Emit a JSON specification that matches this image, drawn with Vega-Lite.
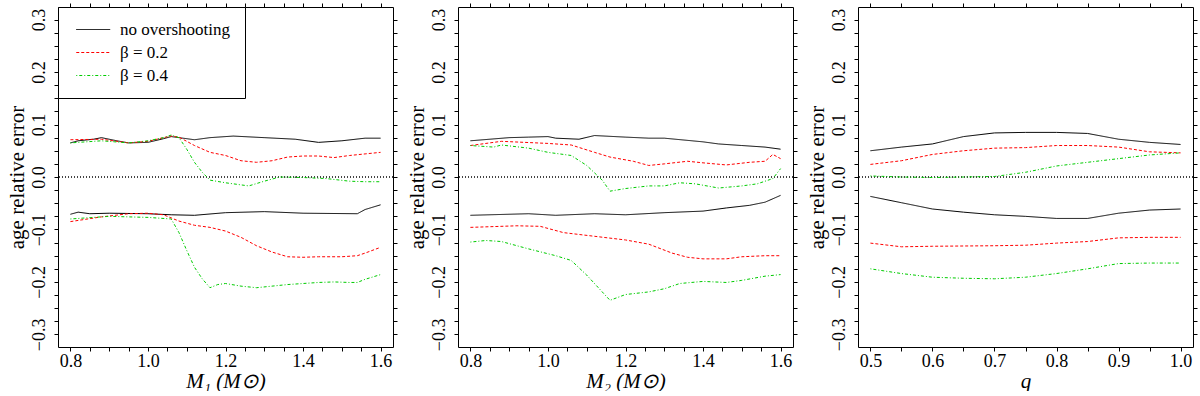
{
  "$schema": "https://vega.github.io/schema/vega-lite/v6.json",
  "padding": {"left": 5, "top": 2, "right": 0, "bottom": 0},
  "background": "white",
  "datasets": {
    "p1": [
      {"x":0.8,"y":0.065,"s":"no overshooting","b":"u"},{"x":0.82,"y":0.069,"s":"no overshooting","b":"u"},{"x":0.86,"y":0.072,"s":"no overshooting","b":"u"},{"x":0.88,"y":0.075,"s":"no overshooting","b":"u"},{"x":0.92,"y":0.069,"s":"no overshooting","b":"u"},{"x":0.95,"y":0.065,"s":"no overshooting","b":"u"},{"x":1.0,"y":0.066,"s":"no overshooting","b":"u"},{"x":1.04,"y":0.073,"s":"no overshooting","b":"u"},{"x":1.06,"y":0.077,"s":"no overshooting","b":"u"},{"x":1.08,"y":0.075,"s":"no overshooting","b":"u"},{"x":1.12,"y":0.071,"s":"no overshooting","b":"u"},{"x":1.16,"y":0.075,"s":"no overshooting","b":"u"},{"x":1.22,"y":0.078,"s":"no overshooting","b":"u"},{"x":1.3,"y":0.075,"s":"no overshooting","b":"u"},{"x":1.38,"y":0.072,"s":"no overshooting","b":"u"},{"x":1.44,"y":0.066,"s":"no overshooting","b":"u"},{"x":1.5,"y":0.069,"s":"no overshooting","b":"u"},{"x":1.56,"y":0.074,"s":"no overshooting","b":"u"},{"x":1.6,"y":0.074,"s":"no overshooting","b":"u"},
      {"x":0.8,"y":0.071,"s":"β = 0.2","b":"u"},{"x":0.88,"y":0.072,"s":"β = 0.2","b":"u"},{"x":0.95,"y":0.065,"s":"β = 0.2","b":"u"},{"x":1.0,"y":0.068,"s":"β = 0.2","b":"u"},{"x":1.04,"y":0.075,"s":"β = 0.2","b":"u"},{"x":1.06,"y":0.078,"s":"β = 0.2","b":"u"},{"x":1.08,"y":0.076,"s":"β = 0.2","b":"u"},{"x":1.12,"y":0.06,"s":"β = 0.2","b":"u"},{"x":1.16,"y":0.047,"s":"β = 0.2","b":"u"},{"x":1.2,"y":0.041,"s":"β = 0.2","b":"u"},{"x":1.24,"y":0.031,"s":"β = 0.2","b":"u"},{"x":1.28,"y":0.028,"s":"β = 0.2","b":"u"},{"x":1.32,"y":0.031,"s":"β = 0.2","b":"u"},{"x":1.36,"y":0.038,"s":"β = 0.2","b":"u"},{"x":1.4,"y":0.04,"s":"β = 0.2","b":"u"},{"x":1.44,"y":0.04,"s":"β = 0.2","b":"u"},{"x":1.48,"y":0.037,"s":"β = 0.2","b":"u"},{"x":1.52,"y":0.041,"s":"β = 0.2","b":"u"},{"x":1.56,"y":0.044,"s":"β = 0.2","b":"u"},{"x":1.6,"y":0.047,"s":"β = 0.2","b":"u"},
      {"x":0.8,"y":0.065,"s":"β = 0.4","b":"u"},{"x":0.88,"y":0.069,"s":"β = 0.4","b":"u"},{"x":0.95,"y":0.065,"s":"β = 0.4","b":"u"},{"x":1.0,"y":0.069,"s":"β = 0.4","b":"u"},{"x":1.04,"y":0.075,"s":"β = 0.4","b":"u"},{"x":1.06,"y":0.08,"s":"β = 0.4","b":"u"},{"x":1.08,"y":0.075,"s":"β = 0.4","b":"u"},{"x":1.1,"y":0.053,"s":"β = 0.4","b":"u"},{"x":1.12,"y":0.028,"s":"β = 0.4","b":"u"},{"x":1.14,"y":0.009,"s":"β = 0.4","b":"u"},{"x":1.16,"y":-0.006,"s":"β = 0.4","b":"u"},{"x":1.2,"y":-0.011,"s":"β = 0.4","b":"u"},{"x":1.26,"y":-0.017,"s":"β = 0.4","b":"u"},{"x":1.3,"y":-0.008,"s":"β = 0.4","b":"u"},{"x":1.34,"y":0.0,"s":"β = 0.4","b":"u"},{"x":1.4,"y":-0.001,"s":"β = 0.4","b":"u"},{"x":1.46,"y":-0.003,"s":"β = 0.4","b":"u"},{"x":1.52,"y":-0.008,"s":"β = 0.4","b":"u"},{"x":1.56,"y":-0.009,"s":"β = 0.4","b":"u"},{"x":1.6,"y":-0.009,"s":"β = 0.4","b":"u"},
      {"x":0.8,"y":-0.071,"s":"no overshooting","b":"l"},{"x":0.82,"y":-0.067,"s":"no overshooting","b":"l"},{"x":0.85,"y":-0.07,"s":"no overshooting","b":"l"},{"x":0.9,"y":-0.069,"s":"no overshooting","b":"l"},{"x":1.0,"y":-0.07,"s":"no overshooting","b":"l"},{"x":1.06,"y":-0.072,"s":"no overshooting","b":"l"},{"x":1.12,"y":-0.073,"s":"no overshooting","b":"l"},{"x":1.2,"y":-0.068,"s":"no overshooting","b":"l"},{"x":1.3,"y":-0.066,"s":"no overshooting","b":"l"},{"x":1.4,"y":-0.069,"s":"no overshooting","b":"l"},{"x":1.54,"y":-0.07,"s":"no overshooting","b":"l"},{"x":1.56,"y":-0.062,"s":"no overshooting","b":"l"},{"x":1.6,"y":-0.053,"s":"no overshooting","b":"l"},
      {"x":0.8,"y":-0.085,"s":"β = 0.2","b":"l"},{"x":0.88,"y":-0.076,"s":"β = 0.2","b":"l"},{"x":0.95,"y":-0.07,"s":"β = 0.2","b":"l"},{"x":1.0,"y":-0.069,"s":"β = 0.2","b":"l"},{"x":1.04,"y":-0.072,"s":"β = 0.2","b":"l"},{"x":1.08,"y":-0.084,"s":"β = 0.2","b":"l"},{"x":1.12,"y":-0.092,"s":"β = 0.2","b":"l"},{"x":1.16,"y":-0.096,"s":"β = 0.2","b":"l"},{"x":1.2,"y":-0.103,"s":"β = 0.2","b":"l"},{"x":1.24,"y":-0.115,"s":"β = 0.2","b":"l"},{"x":1.28,"y":-0.131,"s":"β = 0.2","b":"l"},{"x":1.32,"y":-0.143,"s":"β = 0.2","b":"l"},{"x":1.36,"y":-0.152,"s":"β = 0.2","b":"l"},{"x":1.4,"y":-0.153,"s":"β = 0.2","b":"l"},{"x":1.44,"y":-0.152,"s":"β = 0.2","b":"l"},{"x":1.5,"y":-0.152,"s":"β = 0.2","b":"l"},{"x":1.54,"y":-0.15,"s":"β = 0.2","b":"l"},{"x":1.56,"y":-0.145,"s":"β = 0.2","b":"l"},{"x":1.6,"y":-0.134,"s":"β = 0.2","b":"l"},
      {"x":0.8,"y":-0.08,"s":"β = 0.4","b":"l"},{"x":0.9,"y":-0.075,"s":"β = 0.4","b":"l"},{"x":1.0,"y":-0.077,"s":"β = 0.4","b":"l"},{"x":1.06,"y":-0.08,"s":"β = 0.4","b":"l"},{"x":1.08,"y":-0.106,"s":"β = 0.4","b":"l"},{"x":1.1,"y":-0.14,"s":"β = 0.4","b":"l"},{"x":1.12,"y":-0.172,"s":"β = 0.4","b":"l"},{"x":1.14,"y":-0.194,"s":"β = 0.4","b":"l"},{"x":1.16,"y":-0.211,"s":"β = 0.4","b":"l"},{"x":1.18,"y":-0.205,"s":"β = 0.4","b":"l"},{"x":1.2,"y":-0.203,"s":"β = 0.4","b":"l"},{"x":1.24,"y":-0.208,"s":"β = 0.4","b":"l"},{"x":1.28,"y":-0.211,"s":"β = 0.4","b":"l"},{"x":1.32,"y":-0.208,"s":"β = 0.4","b":"l"},{"x":1.36,"y":-0.205,"s":"β = 0.4","b":"l"},{"x":1.4,"y":-0.203,"s":"β = 0.4","b":"l"},{"x":1.44,"y":-0.201,"s":"β = 0.4","b":"l"},{"x":1.48,"y":-0.2,"s":"β = 0.4","b":"l"},{"x":1.52,"y":-0.201,"s":"β = 0.4","b":"l"},{"x":1.54,"y":-0.201,"s":"β = 0.4","b":"l"},{"x":1.56,"y":-0.195,"s":"β = 0.4","b":"l"},{"x":1.6,"y":-0.186,"s":"β = 0.4","b":"l"}
    ],
    "p2": [
      {"x":0.8,"y":0.069,"s":"no overshooting","b":"u"},{"x":0.9,"y":0.075,"s":"no overshooting","b":"u"},{"x":0.95,"y":0.076,"s":"no overshooting","b":"u"},{"x":1.0,"y":0.077,"s":"no overshooting","b":"u"},{"x":1.02,"y":0.074,"s":"no overshooting","b":"u"},{"x":1.08,"y":0.072,"s":"no overshooting","b":"u"},{"x":1.12,"y":0.079,"s":"no overshooting","b":"u"},{"x":1.2,"y":0.076,"s":"no overshooting","b":"u"},{"x":1.26,"y":0.074,"s":"no overshooting","b":"u"},{"x":1.3,"y":0.074,"s":"no overshooting","b":"u"},{"x":1.4,"y":0.067,"s":"no overshooting","b":"u"},{"x":1.44,"y":0.063,"s":"no overshooting","b":"u"},{"x":1.5,"y":0.06,"s":"no overshooting","b":"u"},{"x":1.56,"y":0.057,"s":"no overshooting","b":"u"},{"x":1.6,"y":0.053,"s":"no overshooting","b":"u"},
      {"x":0.8,"y":0.06,"s":"β = 0.2","b":"u"},{"x":0.88,"y":0.068,"s":"β = 0.2","b":"u"},{"x":1.0,"y":0.064,"s":"β = 0.2","b":"u"},{"x":1.06,"y":0.061,"s":"β = 0.2","b":"u"},{"x":1.12,"y":0.047,"s":"β = 0.2","b":"u"},{"x":1.16,"y":0.038,"s":"β = 0.2","b":"u"},{"x":1.22,"y":0.03,"s":"β = 0.2","b":"u"},{"x":1.26,"y":0.022,"s":"β = 0.2","b":"u"},{"x":1.3,"y":0.025,"s":"β = 0.2","b":"u"},{"x":1.36,"y":0.03,"s":"β = 0.2","b":"u"},{"x":1.4,"y":0.027,"s":"β = 0.2","b":"u"},{"x":1.46,"y":0.023,"s":"β = 0.2","b":"u"},{"x":1.52,"y":0.028,"s":"β = 0.2","b":"u"},{"x":1.56,"y":0.03,"s":"β = 0.2","b":"u"},{"x":1.58,"y":0.043,"s":"β = 0.2","b":"u"},{"x":1.6,"y":0.035,"s":"β = 0.2","b":"u"},
      {"x":0.8,"y":0.06,"s":"β = 0.4","b":"u"},{"x":0.86,"y":0.057,"s":"β = 0.4","b":"u"},{"x":0.88,"y":0.061,"s":"β = 0.4","b":"u"},{"x":0.95,"y":0.055,"s":"β = 0.4","b":"u"},{"x":1.0,"y":0.047,"s":"β = 0.4","b":"u"},{"x":1.06,"y":0.041,"s":"β = 0.4","b":"u"},{"x":1.1,"y":0.022,"s":"β = 0.4","b":"u"},{"x":1.14,"y":-0.006,"s":"β = 0.4","b":"u"},{"x":1.16,"y":-0.027,"s":"β = 0.4","b":"u"},{"x":1.2,"y":-0.022,"s":"β = 0.4","b":"u"},{"x":1.26,"y":-0.017,"s":"β = 0.4","b":"u"},{"x":1.3,"y":-0.017,"s":"β = 0.4","b":"u"},{"x":1.34,"y":-0.011,"s":"β = 0.4","b":"u"},{"x":1.38,"y":-0.013,"s":"β = 0.4","b":"u"},{"x":1.44,"y":-0.021,"s":"β = 0.4","b":"u"},{"x":1.5,"y":-0.017,"s":"β = 0.4","b":"u"},{"x":1.54,"y":-0.013,"s":"β = 0.4","b":"u"},{"x":1.58,"y":-0.003,"s":"β = 0.4","b":"u"},{"x":1.6,"y":0.016,"s":"β = 0.4","b":"u"},
      {"x":0.8,"y":-0.073,"s":"no overshooting","b":"l"},{"x":0.95,"y":-0.07,"s":"no overshooting","b":"l"},{"x":1.02,"y":-0.073,"s":"no overshooting","b":"l"},{"x":1.12,"y":-0.07,"s":"no overshooting","b":"l"},{"x":1.2,"y":-0.072,"s":"no overshooting","b":"l"},{"x":1.3,"y":-0.068,"s":"no overshooting","b":"l"},{"x":1.4,"y":-0.065,"s":"no overshooting","b":"l"},{"x":1.46,"y":-0.059,"s":"no overshooting","b":"l"},{"x":1.52,"y":-0.054,"s":"no overshooting","b":"l"},{"x":1.56,"y":-0.048,"s":"no overshooting","b":"l"},{"x":1.6,"y":-0.035,"s":"no overshooting","b":"l"},
      {"x":0.8,"y":-0.096,"s":"β = 0.2","b":"l"},{"x":0.92,"y":-0.093,"s":"β = 0.2","b":"l"},{"x":0.98,"y":-0.094,"s":"β = 0.2","b":"l"},{"x":1.04,"y":-0.106,"s":"β = 0.2","b":"l"},{"x":1.12,"y":-0.113,"s":"β = 0.2","b":"l"},{"x":1.2,"y":-0.12,"s":"β = 0.2","b":"l"},{"x":1.26,"y":-0.128,"s":"β = 0.2","b":"l"},{"x":1.32,"y":-0.145,"s":"β = 0.2","b":"l"},{"x":1.36,"y":-0.153,"s":"β = 0.2","b":"l"},{"x":1.4,"y":-0.156,"s":"β = 0.2","b":"l"},{"x":1.46,"y":-0.156,"s":"β = 0.2","b":"l"},{"x":1.5,"y":-0.152,"s":"β = 0.2","b":"l"},{"x":1.56,"y":-0.15,"s":"β = 0.2","b":"l"},{"x":1.6,"y":-0.15,"s":"β = 0.2","b":"l"},
      {"x":0.8,"y":-0.124,"s":"β = 0.4","b":"l"},{"x":0.84,"y":-0.121,"s":"β = 0.4","b":"l"},{"x":0.88,"y":-0.123,"s":"β = 0.4","b":"l"},{"x":0.95,"y":-0.137,"s":"β = 0.4","b":"l"},{"x":1.02,"y":-0.15,"s":"β = 0.4","b":"l"},{"x":1.06,"y":-0.159,"s":"β = 0.4","b":"l"},{"x":1.1,"y":-0.187,"s":"β = 0.4","b":"l"},{"x":1.14,"y":-0.219,"s":"β = 0.4","b":"l"},{"x":1.16,"y":-0.235,"s":"β = 0.4","b":"l"},{"x":1.2,"y":-0.224,"s":"β = 0.4","b":"l"},{"x":1.26,"y":-0.219,"s":"β = 0.4","b":"l"},{"x":1.3,"y":-0.213,"s":"β = 0.4","b":"l"},{"x":1.34,"y":-0.203,"s":"β = 0.4","b":"l"},{"x":1.4,"y":-0.199,"s":"β = 0.4","b":"l"},{"x":1.46,"y":-0.201,"s":"β = 0.4","b":"l"},{"x":1.5,"y":-0.197,"s":"β = 0.4","b":"l"},{"x":1.56,"y":-0.189,"s":"β = 0.4","b":"l"},{"x":1.6,"y":-0.186,"s":"β = 0.4","b":"l"}
    ],
    "p3": [
      {"x":0.5,"y":0.05,"s":"no overshooting","b":"u"},{"x":0.55,"y":0.057,"s":"no overshooting","b":"u"},{"x":0.6,"y":0.063,"s":"no overshooting","b":"u"},{"x":0.65,"y":0.077,"s":"no overshooting","b":"u"},{"x":0.7,"y":0.084,"s":"no overshooting","b":"u"},{"x":0.75,"y":0.085,"s":"no overshooting","b":"u"},{"x":0.8,"y":0.085,"s":"no overshooting","b":"u"},{"x":0.85,"y":0.083,"s":"no overshooting","b":"u"},{"x":0.9,"y":0.072,"s":"no overshooting","b":"u"},{"x":0.95,"y":0.066,"s":"no overshooting","b":"u"},{"x":1.0,"y":0.062,"s":"no overshooting","b":"u"},
      {"x":0.5,"y":0.024,"s":"β = 0.2","b":"u"},{"x":0.55,"y":0.031,"s":"β = 0.2","b":"u"},{"x":0.6,"y":0.043,"s":"β = 0.2","b":"u"},{"x":0.65,"y":0.05,"s":"β = 0.2","b":"u"},{"x":0.7,"y":0.055,"s":"β = 0.2","b":"u"},{"x":0.75,"y":0.056,"s":"β = 0.2","b":"u"},{"x":0.8,"y":0.06,"s":"β = 0.2","b":"u"},{"x":0.85,"y":0.06,"s":"β = 0.2","b":"u"},{"x":0.9,"y":0.057,"s":"β = 0.2","b":"u"},{"x":0.95,"y":0.048,"s":"β = 0.2","b":"u"},{"x":1.0,"y":0.046,"s":"β = 0.2","b":"u"},
      {"x":0.5,"y":0.002,"s":"β = 0.4","b":"u"},{"x":0.55,"y":0.0,"s":"β = 0.4","b":"u"},{"x":0.6,"y":-0.001,"s":"β = 0.4","b":"u"},{"x":0.65,"y":0.0,"s":"β = 0.4","b":"u"},{"x":0.7,"y":0.001,"s":"β = 0.4","b":"u"},{"x":0.75,"y":0.009,"s":"β = 0.4","b":"u"},{"x":0.8,"y":0.021,"s":"β = 0.4","b":"u"},{"x":0.85,"y":0.028,"s":"β = 0.4","b":"u"},{"x":0.9,"y":0.035,"s":"β = 0.4","b":"u"},{"x":0.95,"y":0.042,"s":"β = 0.4","b":"u"},{"x":1.0,"y":0.046,"s":"β = 0.4","b":"u"},
      {"x":0.5,"y":-0.037,"s":"no overshooting","b":"l"},{"x":0.55,"y":-0.049,"s":"no overshooting","b":"l"},{"x":0.6,"y":-0.061,"s":"no overshooting","b":"l"},{"x":0.65,"y":-0.067,"s":"no overshooting","b":"l"},{"x":0.7,"y":-0.072,"s":"no overshooting","b":"l"},{"x":0.75,"y":-0.075,"s":"no overshooting","b":"l"},{"x":0.8,"y":-0.079,"s":"no overshooting","b":"l"},{"x":0.85,"y":-0.079,"s":"no overshooting","b":"l"},{"x":0.9,"y":-0.069,"s":"no overshooting","b":"l"},{"x":0.95,"y":-0.063,"s":"no overshooting","b":"l"},{"x":1.0,"y":-0.061,"s":"no overshooting","b":"l"},
      {"x":0.5,"y":-0.126,"s":"β = 0.2","b":"l"},{"x":0.55,"y":-0.133,"s":"β = 0.2","b":"l"},{"x":0.6,"y":-0.132,"s":"β = 0.2","b":"l"},{"x":0.7,"y":-0.131,"s":"β = 0.2","b":"l"},{"x":0.75,"y":-0.13,"s":"β = 0.2","b":"l"},{"x":0.8,"y":-0.126,"s":"β = 0.2","b":"l"},{"x":0.85,"y":-0.123,"s":"β = 0.2","b":"l"},{"x":0.9,"y":-0.116,"s":"β = 0.2","b":"l"},{"x":0.95,"y":-0.115,"s":"β = 0.2","b":"l"},{"x":1.0,"y":-0.115,"s":"β = 0.2","b":"l"},
      {"x":0.5,"y":-0.175,"s":"β = 0.4","b":"l"},{"x":0.55,"y":-0.184,"s":"β = 0.4","b":"l"},{"x":0.6,"y":-0.191,"s":"β = 0.4","b":"l"},{"x":0.65,"y":-0.193,"s":"β = 0.4","b":"l"},{"x":0.7,"y":-0.194,"s":"β = 0.4","b":"l"},{"x":0.75,"y":-0.191,"s":"β = 0.4","b":"l"},{"x":0.8,"y":-0.184,"s":"β = 0.4","b":"l"},{"x":0.85,"y":-0.175,"s":"β = 0.4","b":"l"},{"x":0.9,"y":-0.165,"s":"β = 0.4","b":"l"},{"x":0.95,"y":-0.164,"s":"β = 0.4","b":"l"},{"x":1.0,"y":-0.164,"s":"β = 0.4","b":"l"}
    ]
  },
  "bounds": "flush",
  "spacing": 65,
  "resolve": {"scale": {"color": "independent", "strokeDash": "independent"}, "legend": {"color": "independent", "strokeDash": "independent"}},
  "hconcat": [
    {
      "width": 335, "height": 340,
      "data": {"name": "p1"},
      "resolve": {"axis": {"x": "independent", "y": "independent"}},
      "layer": [
        {
          "mark": {"type": "rule", "strokeDash": [1, 2], "color": "#444", "strokeWidth": 1},
          "encoding": {"y": {"datum": 0, "type": "quantitative", "axis": null}}
        },
        {
          "mark": {"type": "line", "strokeWidth": 1},
          "encoding": {
            "x": {"field": "x", "type": "quantitative", "scale": {"domain": [0.768, 1.632], "nice": false, "zero": false},
              "axis": {"orient": "bottom", "title": "M₁ (M⊙)", "titleFontStyle": "italic", "labelFont": "Liberation Serif", "titleFont": "Liberation Serif", "labelPadding": 1, "titlePadding": 0, "values": [0.8,0.85,0.9,0.95,1.0,1.05,1.1,1.15,1.2,1.25,1.3,1.35,1.4,1.45,1.5,1.55,1.6], "labelExpr": "round(datum.value*20) % 4 == 0 ? format(datum.value, '.1f') : ''"}},
            "y": {"field": "y", "type": "quantitative", "scale": {"domain": [-0.324, 0.324], "nice": false, "zero": false},
              "axis": {"orient": "left", "title": "age relative error", "labelFont": "Liberation Serif", "titleFont": "Liberation Serif", "labelPadding": 6, "titlePadding": 3, "values": [-0.3,-0.275,-0.25,-0.225,-0.2,-0.175,-0.15,-0.125,-0.1,-0.075,-0.05,-0.025,0,0.025,0.05,0.075,0.1,0.125,0.15,0.175,0.2,0.225,0.25,0.275,0.3], "labelExpr": "abs(round(datum.value*40)) % 4 == 0 ? format(datum.value, '.1f') : ''", "labelAngle": 270, "labelAlign": "center", "labelBaseline": "bottom"}},
            "color": {"field": "s", "type": "nominal", "scale": {"domain": ["no overshooting", "β = 0.2", "β = 0.4"], "range": ["#000000", "#ff0000", "#00cc00"]},
              "legend": {"title": null, "orient": "top-left", "offset": 0, "fillColor": "white", "strokeColor": "black", "padding": 14, "symbolType": "M-1,0H7", "symbolSize": 72, "symbolStrokeWidth": 1, "rowPadding": 5, "labelOffset": 31, "labelFont": "Liberation Serif", "labelFontSize": 17, "labelColor": "black"}},
            "strokeDash": {"field": "s", "type": "nominal", "scale": {"domain": ["no overshooting", "β = 0.2", "β = 0.4"], "range": [[1, 0], [3, 2], [1, 2, 3, 2]]},
              "legend": {"title": null, "orient": "top-left", "offset": 0, "fillColor": "white", "strokeColor": "black", "padding": 14, "symbolType": "M-1,0H7", "symbolSize": 72, "symbolStrokeWidth": 1, "rowPadding": 5, "labelOffset": 31, "labelFont": "Liberation Serif", "labelFontSize": 17, "labelColor": "black"}},
            "detail": {"field": "b", "type": "nominal"}
          }
        },
        {
          "mark": {"type": "line", "opacity": 0},
          "encoding": {
            "x": {"field": "x", "type": "quantitative", "axis": {"orient": "top", "title": null, "labels": false, "values": [0.8,0.85,0.9,0.95,1.0,1.05,1.1,1.15,1.2,1.25,1.3,1.35,1.4,1.45,1.5,1.55,1.6]}},
            "y": {"field": "y", "type": "quantitative", "axis": {"orient": "right", "title": null, "labels": false, "values": [-0.3,-0.275,-0.25,-0.225,-0.2,-0.175,-0.15,-0.125,-0.1,-0.075,-0.05,-0.025,0,0.025,0.05,0.075,0.1,0.125,0.15,0.175,0.2,0.225,0.25,0.275,0.3]}},
            "detail": {"field": "b", "type": "nominal"}
          }
        }
      ]
    },
    {
      "width": 335, "height": 340,
      "data": {"name": "p2"},
      "resolve": {"axis": {"x": "independent", "y": "independent"}},
      "layer": [
        {
          "mark": {"type": "rule", "strokeDash": [1, 2], "color": "#444", "strokeWidth": 1},
          "encoding": {"y": {"datum": 0, "type": "quantitative", "axis": null}}
        },
        {
          "mark": {"type": "line", "strokeWidth": 1},
          "encoding": {
            "x": {"field": "x", "type": "quantitative", "scale": {"domain": [0.768, 1.632], "nice": false, "zero": false},
              "axis": {"orient": "bottom", "title": "M₂ (M⊙)", "titleFontStyle": "italic", "labelFont": "Liberation Serif", "titleFont": "Liberation Serif", "labelPadding": 1, "titlePadding": 0, "values": [0.8,0.85,0.9,0.95,1.0,1.05,1.1,1.15,1.2,1.25,1.3,1.35,1.4,1.45,1.5,1.55,1.6], "labelExpr": "round(datum.value*20) % 4 == 0 ? format(datum.value, '.1f') : ''"}},
            "y": {"field": "y", "type": "quantitative", "scale": {"domain": [-0.324, 0.324], "nice": false, "zero": false},
              "axis": {"orient": "left", "title": "age relative error", "labelFont": "Liberation Serif", "titleFont": "Liberation Serif", "labelPadding": 6, "titlePadding": 3, "values": [-0.3,-0.275,-0.25,-0.225,-0.2,-0.175,-0.15,-0.125,-0.1,-0.075,-0.05,-0.025,0,0.025,0.05,0.075,0.1,0.125,0.15,0.175,0.2,0.225,0.25,0.275,0.3], "labelExpr": "abs(round(datum.value*40)) % 4 == 0 ? format(datum.value, '.1f') : ''", "labelAngle": 270, "labelAlign": "center", "labelBaseline": "bottom"}},
            "color": {"field": "s", "type": "nominal", "scale": {"domain": ["no overshooting", "β = 0.2", "β = 0.4"], "range": ["#000000", "#ff0000", "#00cc00"]}, "legend": null},
            "strokeDash": {"field": "s", "type": "nominal", "scale": {"domain": ["no overshooting", "β = 0.2", "β = 0.4"], "range": [[1, 0], [3, 2], [1, 2, 3, 2]]}, "legend": null},
            "detail": {"field": "b", "type": "nominal"}
          }
        },
        {
          "mark": {"type": "line", "opacity": 0},
          "encoding": {
            "x": {"field": "x", "type": "quantitative", "axis": {"orient": "top", "title": null, "labels": false, "values": [0.8,0.85,0.9,0.95,1.0,1.05,1.1,1.15,1.2,1.25,1.3,1.35,1.4,1.45,1.5,1.55,1.6]}},
            "y": {"field": "y", "type": "quantitative", "axis": {"orient": "right", "title": null, "labels": false, "values": [-0.3,-0.275,-0.25,-0.225,-0.2,-0.175,-0.15,-0.125,-0.1,-0.075,-0.05,-0.025,0,0.025,0.05,0.075,0.1,0.125,0.15,0.175,0.2,0.225,0.25,0.275,0.3]}},
            "detail": {"field": "b", "type": "nominal"}
          }
        }
      ]
    },
    {
      "width": 335, "height": 340,
      "data": {"name": "p3"},
      "resolve": {"axis": {"x": "independent", "y": "independent"}},
      "layer": [
        {
          "mark": {"type": "rule", "strokeDash": [1, 2], "color": "#444", "strokeWidth": 1},
          "encoding": {"y": {"datum": 0, "type": "quantitative", "axis": null}}
        },
        {
          "mark": {"type": "line", "strokeWidth": 1},
          "encoding": {
            "x": {"field": "x", "type": "quantitative", "scale": {"domain": [0.48, 1.02], "nice": false, "zero": false},
              "axis": {"orient": "bottom", "title": "q", "titleFontStyle": "italic", "labelFont": "Liberation Serif", "titleFont": "Liberation Serif", "labelPadding": 1, "titlePadding": 0, "values": [0.5,0.55,0.6,0.65,0.7,0.75,0.8,0.85,0.9,0.95,1.0], "labelExpr": "round(datum.value*20) % 2 == 0 ? format(datum.value, '.1f') : ''"}},
            "y": {"field": "y", "type": "quantitative", "scale": {"domain": [-0.324, 0.324], "nice": false, "zero": false},
              "axis": {"orient": "left", "title": "age relative error", "labelFont": "Liberation Serif", "titleFont": "Liberation Serif", "labelPadding": 6, "titlePadding": 3, "values": [-0.3,-0.275,-0.25,-0.225,-0.2,-0.175,-0.15,-0.125,-0.1,-0.075,-0.05,-0.025,0,0.025,0.05,0.075,0.1,0.125,0.15,0.175,0.2,0.225,0.25,0.275,0.3], "labelExpr": "abs(round(datum.value*40)) % 4 == 0 ? format(datum.value, '.1f') : ''", "labelAngle": 270, "labelAlign": "center", "labelBaseline": "bottom"}},
            "color": {"field": "s", "type": "nominal", "scale": {"domain": ["no overshooting", "β = 0.2", "β = 0.4"], "range": ["#000000", "#ff0000", "#00cc00"]}, "legend": null},
            "strokeDash": {"field": "s", "type": "nominal", "scale": {"domain": ["no overshooting", "β = 0.2", "β = 0.4"], "range": [[1, 0], [3, 2], [1, 2, 3, 2]]}, "legend": null},
            "detail": {"field": "b", "type": "nominal"}
          }
        },
        {
          "mark": {"type": "line", "opacity": 0},
          "encoding": {
            "x": {"field": "x", "type": "quantitative", "axis": {"orient": "top", "title": null, "labels": false, "values": [0.5,0.55,0.6,0.65,0.7,0.75,0.8,0.85,0.9,0.95,1.0]}},
            "y": {"field": "y", "type": "quantitative", "axis": {"orient": "right", "title": null, "labels": false, "values": [-0.3,-0.275,-0.25,-0.225,-0.2,-0.175,-0.15,-0.125,-0.1,-0.075,-0.05,-0.025,0,0.025,0.05,0.075,0.1,0.125,0.15,0.175,0.2,0.225,0.25,0.275,0.3]}},
            "detail": {"field": "b", "type": "nominal"}
          }
        }
      ]
    }
  ],
  "config": {
    "view": {"stroke": null},
    "style": {"guide-label": {"font": "Liberation Serif"}, "guide-title": {"font": "Liberation Serif"}},
    "axis": {"labelFont": "Liberation Serif", "labelFontSize": 18, "titleFont": "Liberation Serif", "titleFontSize": 21, "titleFontWeight": "normal", "labelColor": "black", "titleColor": "black", "domainColor": "black", "tickColor": "black", "tickSize": 4, "grid": false, "labelFlush": false, "labelOverlap": false}
  }
}
